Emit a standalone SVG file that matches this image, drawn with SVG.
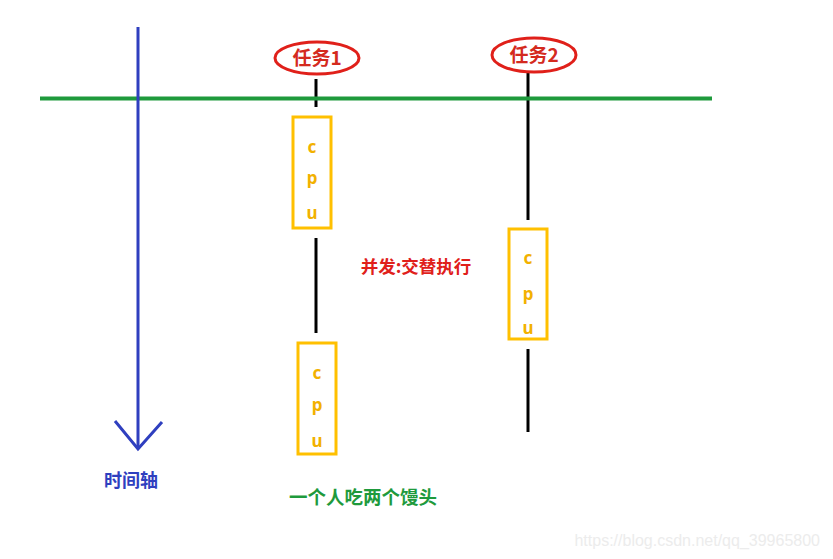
<svg xmlns="http://www.w3.org/2000/svg" width="833" height="559" viewBox="0 0 833 559">
<style>
.cpu{fill:none;stroke:#ffc000;stroke-width:3}
.cl{font-family:"Noto Sans","Liberation Sans",sans-serif;font-weight:bold;font-size:17px;fill:#f2b100;text-anchor:middle}
.task{fill:#fff;stroke:#e0201a;stroke-width:3}
.tt{font-family:"Noto Sans CJK SC","Liberation Sans",sans-serif;font-weight:bold;font-size:19px;fill:#d42a1e;text-anchor:middle}
.bk{stroke:#000;stroke-width:3;fill:none}
</style>
<rect width="833" height="559" fill="#fff"/>
<g id="connectors">
<line class="bk" x1="316" y1="79" x2="316" y2="107"/>
<line class="bk" x1="316" y1="238" x2="316" y2="333"/>
<line class="bk" x1="528" y1="73" x2="528" y2="220"/>
<line class="bk" x1="528" y1="349" x2="528" y2="432"/>
</g>
<g id="green-line"><line x1="40" y1="98.5" x2="712" y2="98.5" stroke="#1e9a3c" stroke-width="4"/></g>
<g id="time-axis">
<line x1="138" y1="27" x2="138" y2="449" stroke="#2f3fbf" stroke-width="3"/>
<polyline points="115,421 138,449 162,422" fill="none" stroke="#2f3fbf" stroke-width="3"/>
<text x="131" y="487" font-family="'Noto Sans CJK SC',sans-serif" font-weight="bold" font-size="18" fill="#2f3fbf" text-anchor="middle">时间轴</text>
</g>
<g id="task1">
<ellipse class="task" cx="317" cy="58" rx="42" ry="16"/>
<text class="tt" x="317" y="65">任务1</text>
</g>
<g id="task2">
<ellipse class="task" cx="534" cy="55" rx="42" ry="17"/>
<text class="tt" x="534" y="62">任务2</text>
</g>
<g id="cpu1">
<rect class="cpu" x="293" y="117" width="38" height="111"/>
<text class="cl" x="312" y="153">c</text>
<text class="cl" x="312" y="184">p</text>
<text class="cl" x="312" y="219">u</text>
</g>
<g id="cpu2">
<rect class="cpu" x="298" y="343" width="38" height="111"/>
<text class="cl" x="317" y="379">c</text>
<text class="cl" x="317" y="411">p</text>
<text class="cl" x="317" y="447">u</text>
</g>
<g id="cpu3">
<rect class="cpu" x="509" y="229" width="38" height="110"/>
<text class="cl" x="528" y="264">c</text>
<text class="cl" x="528" y="300">p</text>
<text class="cl" x="528" y="334">u</text>
</g>
<g id="label-concurrent">
<text x="416" y="273" font-family="'Noto Sans CJK SC',sans-serif" font-weight="bold" font-size="17.5" fill="#e0201a" text-anchor="middle">并发:交替执行</text>
</g>
<g id="label-eat">
<text x="363" y="504" font-family="'Noto Sans CJK SC',sans-serif" font-weight="bold" font-size="18.5" fill="#1e9a3c" text-anchor="middle">一个人吃两个馒头</text>
</g>
<text x="820" y="546" font-family="'Liberation Sans',sans-serif" font-size="16" fill="#ececec" text-anchor="end">https://blog.csdn.net/qq_39965800</text>
</svg>
